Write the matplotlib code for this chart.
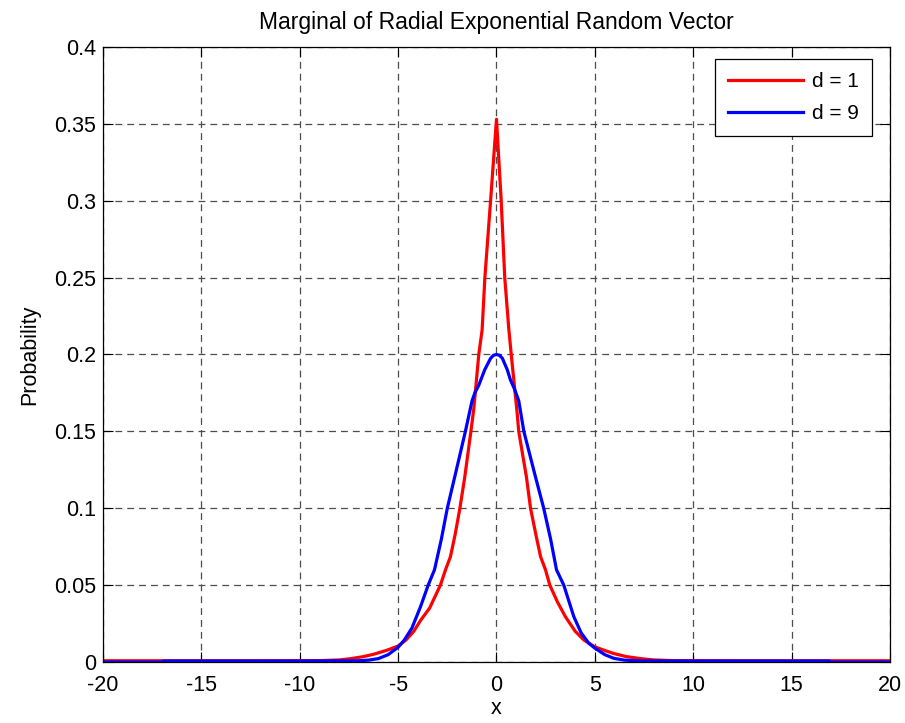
import matplotlib
matplotlib.use('Agg')
import matplotlib.pyplot as plt

plt.rcParams['font.family'] = ['Liberation Sans', 'DejaVu Sans']

# ── values ──────────────────────────────────────────────────────────────────
x_d1 = [-20, -17, -12, -9, -8, -7.4, -6.8, -6.25, -5.6, -5, -4.6, -4.2, -3.86,
        -3.4, -2.85, -2.59, -2.34, -2.1, -1.86, -1.61, -1.3, -1.15, -0.9,
        -0.73, -0.59, -0.3, 0, 0.24, 0.42, 0.63, 0.75, 1.05, 1.13, 1.52, 1.73,
        2.0, 2.24, 2.49, 2.71, 3.1, 3.5, 4.0, 4.44, 5.0, 5.5, 5.96, 6.6, 7.32,
        8, 9, 12, 17, 20]
p_d1 = [0.0008, 0.0008, 0.0008, 0.0009, 0.0013, 0.0022, 0.0034, 0.005, 0.0075,
        0.0104, 0.0143, 0.02, 0.027, 0.035, 0.05, 0.06, 0.0685, 0.083, 0.1,
        0.1205, 0.15, 0.165, 0.2, 0.216, 0.25, 0.3, 0.353, 0.3, 0.25, 0.216,
        0.2, 0.162, 0.15, 0.1205, 0.1, 0.083, 0.0685, 0.06, 0.05, 0.039,
        0.0295, 0.02, 0.0143, 0.0098, 0.0075, 0.0055, 0.0035, 0.0022, 0.0013,
        0.0009, 0.0008, 0.0008, 0.0008]

x_d9 = [-20, -17, -16.9, -10, -7, -6.5, -6.0, -5.5, -5.0, -4.7, -4.3, -3.86,
        -3.47, -3.15, -2.8, -2.5, -2.12, -1.58, -1.24, -1.1, -0.9, -0.6, -0.3,
        -0.15, 0, 0.15, 0.3, 0.55, 0.71, 0.9, 1.13, 1.39, 1.98, 2.4, 2.75,
        3.05, 3.42, 3.93, 4.3, 4.69, 5.0, 5.5, 5.96, 6.5, 7.32, 10, 16.9, 17,
        20]
p_d9 = [0, 0, 0.0006, 0.0006, 0.0008, 0.0012, 0.0022, 0.0048, 0.0096, 0.014,
        0.022, 0.036, 0.05, 0.06, 0.08, 0.1, 0.1205, 0.15, 0.17, 0.175, 0.18,
        0.19, 0.1975, 0.1995, 0.2, 0.1995, 0.1975, 0.19, 0.1834, 0.178, 0.17,
        0.15, 0.1205, 0.1, 0.08, 0.06, 0.05, 0.0295, 0.019, 0.0122, 0.009,
        0.0048, 0.0024, 0.0012, 0.0007, 0.0006, 0.0006, 0, 0]

x_ticks = [-20, -15, -10, -5, 0, 5, 10, 15, 20]
y_ticks = [0, 0.05, 0.1, 0.15, 0.2, 0.25, 0.3, 0.35, 0.4]
y_tick_labels = ['0', '0.05', '0.1', '0.15', '0.2', '0.25', '0.3', '0.35', '0.4']

fig = plt.figure(figsize=(9.05, 7.23), dpi=100)
ax = fig.add_axes([0.1138, 0.0844, 0.8696, 0.8506])

ax.plot(x_d1, p_d1, color='red', lw=2.3, label='d = 1')
ax.plot(x_d9, p_d9, color='blue', lw=2.3, label='d = 9')

ax.set_xlim(-20, 20)
ax.set_ylim(0, 0.4)
ax.set_xticks(x_ticks)
ax.set_xticklabels([str(t) for t in x_ticks])
ax.set_yticks(y_ticks)
ax.set_yticklabels(y_tick_labels)
ax.tick_params(direction='in', length=7, width=0.8, top=True, right=True,
               labelsize=15.5)
ax.tick_params(axis='x', pad=9.5)
ax.tick_params(axis='y', pad=5)
ax.grid(True, color='0.3', linestyle=(0, (5.5, 4)), linewidth=0.9)
for sp in ax.spines.values():
    sp.set_linewidth(0.9)

ax.set_title('Marginal of Radial Exponential Random Vector', fontsize=16.5, pad=13)
ax.set_xlabel('x', fontsize=15.5, labelpad=1.5)
ax.set_ylabel('Probability', fontsize=15.5, labelpad=10)

leg = ax.legend(loc='upper right', bbox_to_anchor=(0.977, 0.9805),
                borderaxespad=0, fontsize=15, handlelength=3.6,
                handletextpad=0.45, borderpad=0.62, labelspacing=0.65,
                fancybox=False, framealpha=1)
leg.get_frame().set_edgecolor('black')
leg.get_frame().set_linewidth(0.9)

plt.savefig('out.png', dpi=100)
